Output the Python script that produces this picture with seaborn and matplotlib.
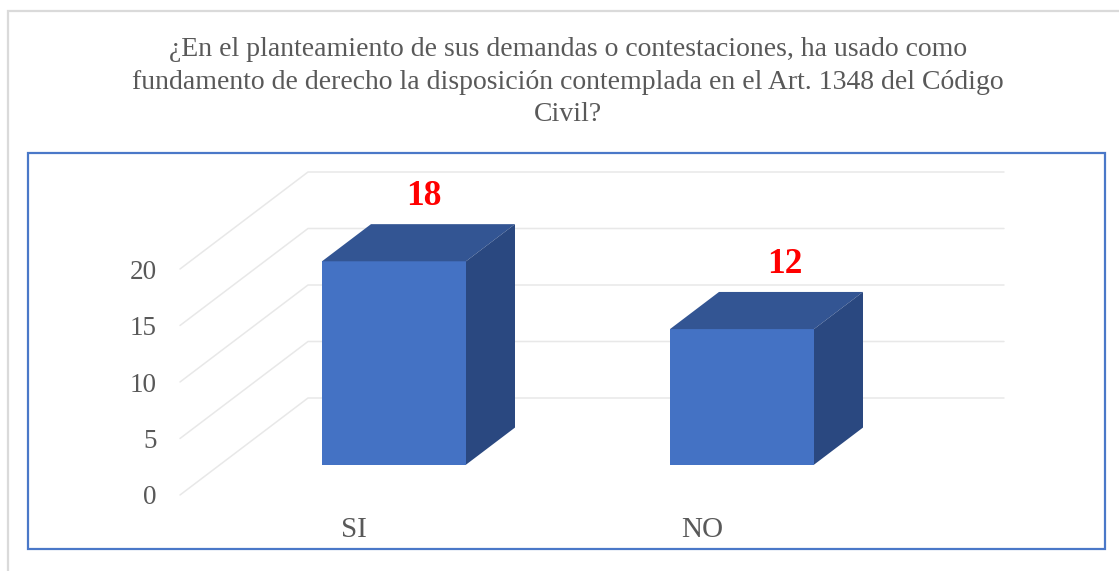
import matplotlib
matplotlib.use("Agg")
import matplotlib.pyplot as plt
import pandas as pd
import seaborn as sns
from matplotlib.patches import Rectangle

categories = ["SI", "NO"]
values = [18, 12]
y_ticks = [0, 5, 10, 15, 20]
title_lines = [
    "¿En el planteamiento de sus demandas o contestaciones, ha usado como",
    "fundamento de derecho la disposición contemplada en el Art. 1348 del Código",
    "Civil?",
]

W, H = 1119, 571
FRONT, TOP, SIDE = "#4472C4", "#335593", "#2A4880"
GREY = "#595959"
GRID = "#E8E8E8"

sns.set_theme(style="white")
plt.rcParams["font.family"] = ["Liberation Serif", "DejaVu Serif"]

fig = plt.figure(figsize=(W / 100, H / 100), dpi=100, facecolor="white")
ax = fig.add_axes([180 / W, 1 - 495 / H, 696 / W, 226 / H])
ax.patch.set_alpha(0)

df = pd.DataFrame({"cat": categories, "val": values})
BAR_W = 144 / 348
sns.barplot(data=df, x="cat", y="val", color=FRONT, saturation=1, width=BAR_W,
            ax=ax, zorder=3, linewidth=0)
ax.set_xlim(-0.5, 1.5)
ax.set_ylim(0, 20)

# Oblique depth vector, in data units, for depth fraction 1
DX, DY = 128 / 348, 97 / 11.3
T0, T1 = 40 / 128, 89 / 128


def proj(x, y, t):
    return x + DX * t, y + DY * t


# Walls
for y in y_ticks:
    bx, by = proj(-0.5, y, 1)
    ex, ey = proj(1.5, y, 1)
    ax.plot([-0.5, bx, ex], [y, by, ey], color=GRID, lw=1.1, zorder=1,
            clip_on=False, solid_joinstyle="miter")

# Bars: shift the front faces into place and add top and side faces
for i, (patch, v) in enumerate(zip(ax.patches, values)):
    patch.set_x(patch.get_x() + DX * T0)
    patch.set_y(patch.get_y() + DY * T0)
    patch.set_clip_on(False)
    l, r = i - BAR_W / 2, i + BAR_W / 2
    top = [proj(l, v, T0), proj(r, v, T0), proj(r, v, T1), proj(l, v, T1)]
    side = [proj(r, 0, T0), proj(r, v, T0), proj(r, v, T1), proj(r, 0, T1)]
    ax.fill(*zip(*top), color=TOP, lw=0, zorder=3, clip_on=False)
    ax.fill(*zip(*side), color=SIDE, lw=0, zorder=3, clip_on=False)

# Value labels
for i, (v, off) in enumerate(zip(values, [0.20, 0.238])):
    ax.text(i + off, v + DY - 0.15, str(v), color="#FF0000", fontsize=25.5, fontweight="bold",
            ha="center", va="center", zorder=5, clip_on=False)

ax.set_xlabel("")
ax.set_ylabel("")
ax.set_yticks(y_ticks)
ax.set_yticklabels([str(t) for t in y_ticks])
ax.tick_params(axis="y", length=0, pad=17, labelsize=19.5, labelcolor=GREY)
ax.tick_params(axis="x", length=0, pad=16, labelsize=21, labelcolor=GREY)
sns.despine(ax=ax, left=True, bottom=True)


def px_rect(x0, y0, x1, y1, color, lw):
    fig.add_artist(Rectangle((x0 / W, 1 - y1 / H), (x1 - x0) / W, (y1 - y0) / H,
                             transform=fig.transFigure, fill=False,
                             edgecolor=color, linewidth=lw, clip_on=False))


# Outer pale frame (runs off the right and bottom edges) and inner blue frame
px_rect(8, 11, W + 20, H + 20, "#DADADA", 1.6)
px_rect(28, 153, 1105, 549, "#4A78C8", 1.6)

# Title
for line, yc in zip(title_lines, [50, 83, 115]):
    fig.text(568 / W, 1 - yc / H, line, color=GREY, fontsize=20, ha="center", va="center")

fig.savefig("out.png", dpi=100, facecolor="white")
